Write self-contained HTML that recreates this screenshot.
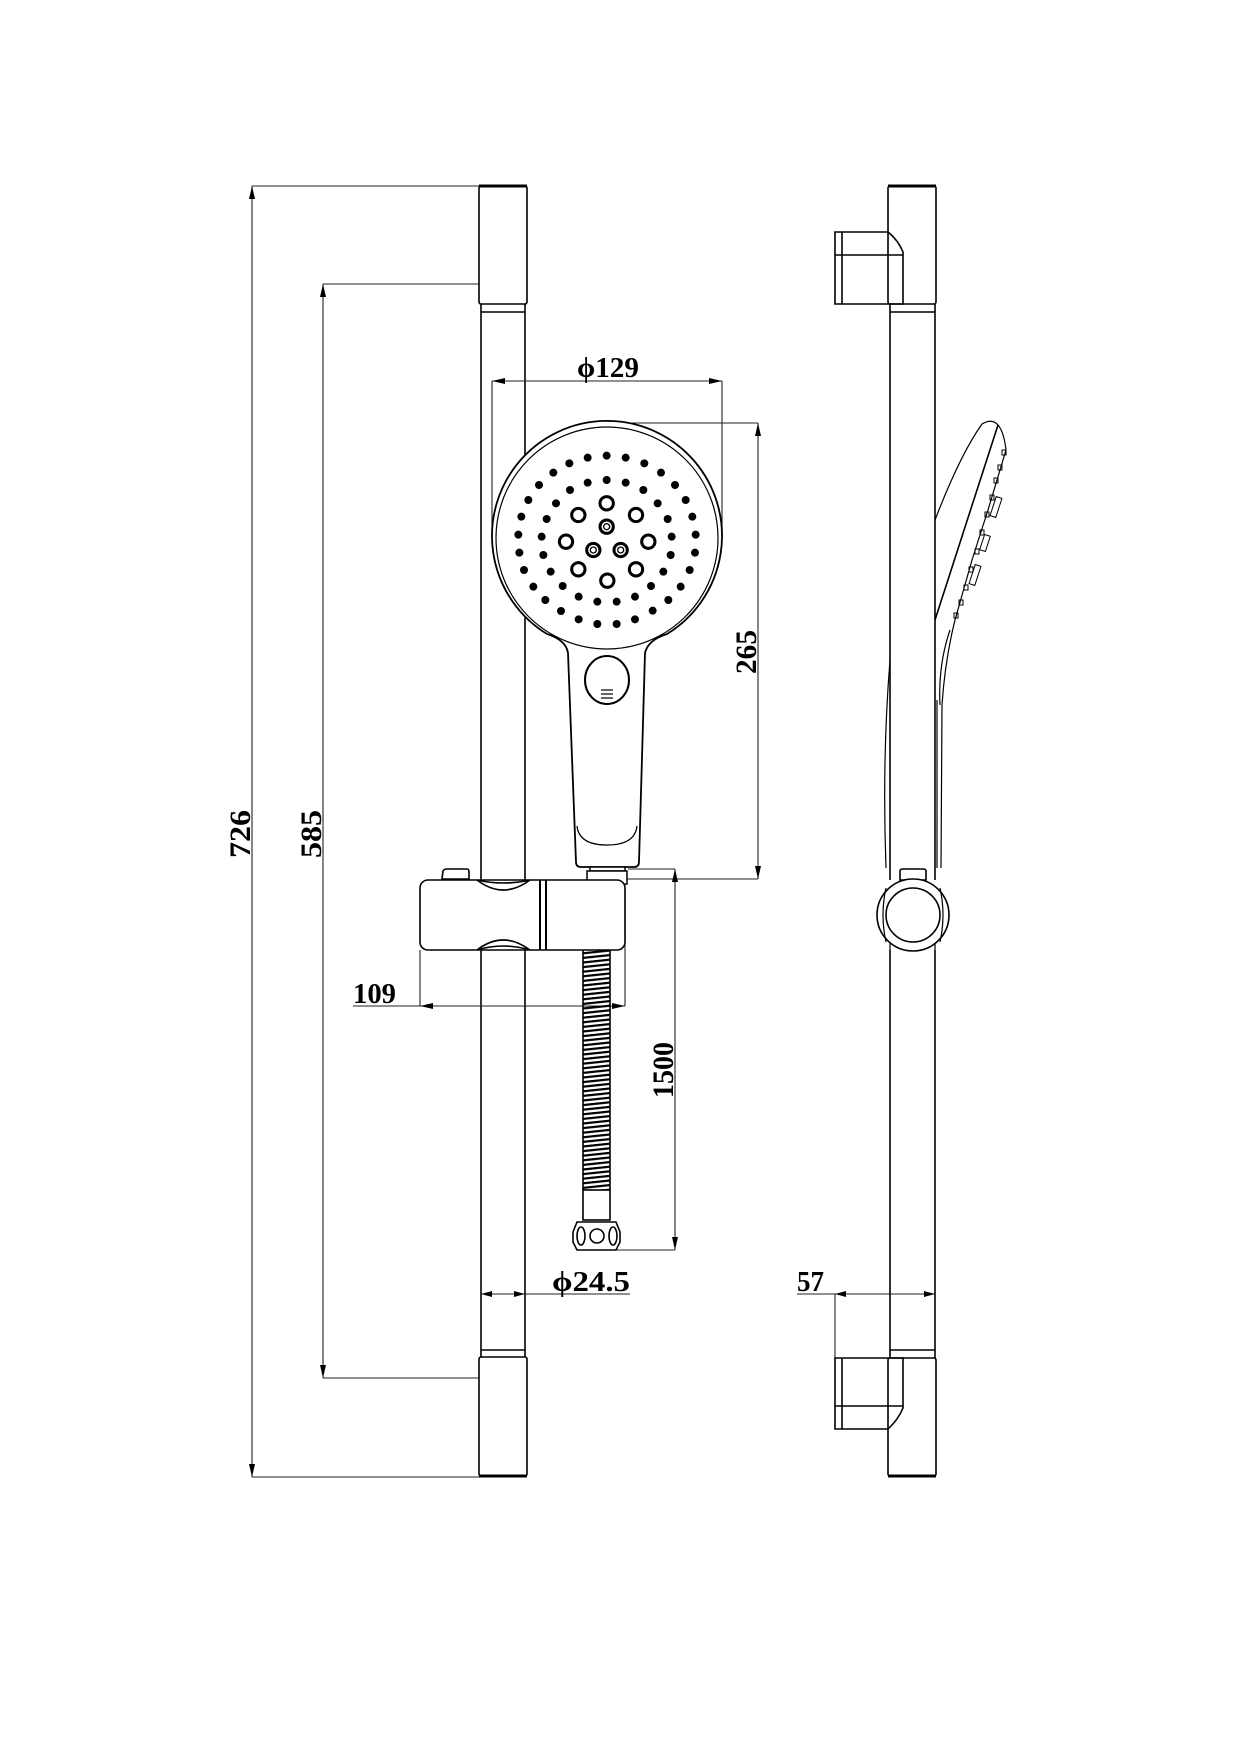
<!DOCTYPE html>
<html><head><meta charset="utf-8"><style>
html,body{margin:0;padding:0;background:#fff;}
svg{display:block;}
text{font-family:"Liberation Serif",serif;font-weight:bold;fill:#000;}
</style></head><body>
<svg width="1240" height="1755" viewBox="0 0 1240 1755" xmlns="http://www.w3.org/2000/svg">
<defs>
<pattern id="coil" width="27" height="4.6" patternUnits="userSpaceOnUse" patternTransform="translate(583,0) skewY(-6)">
<rect x="0" y="0" width="27" height="2.2" fill="#000"/>
</pattern>
</defs>
<g fill="none" stroke="#000" stroke-width="1.6">
<!-- FRONT VIEW rail -->
<rect x="479" y="186" width="48" height="118" rx="2"/>
<line x1="479" y1="186" x2="527" y2="186" stroke-width="3"/>
<line x1="481" y1="304" x2="481" y2="880"/>
<line x1="525" y1="304" x2="525" y2="880"/>
<line x1="481" y1="312" x2="525" y2="312"/>
<line x1="481" y1="950" x2="481" y2="1357"/>
<line x1="525" y1="950" x2="525" y2="1357"/>
<line x1="481" y1="1350" x2="525" y2="1350"/>
<rect x="479" y="1357" width="48" height="119" rx="2"/>
<line x1="479" y1="1476" x2="527" y2="1476" stroke-width="3"/>
</g>

<!-- Dimension lines -->
<g fill="none" stroke="#222" stroke-width="1.1">
<line x1="252" y1="186" x2="479" y2="186"/>
<line x1="252" y1="186" x2="252" y2="1477"/>
<line x1="252" y1="1477" x2="479" y2="1477"/>
<line x1="323" y1="284" x2="479" y2="284"/>
<line x1="323" y1="284" x2="323" y2="1378"/>
<line x1="323" y1="1378" x2="479" y2="1378"/>
<!-- phi129 -->
<line x1="492" y1="381" x2="722" y2="381"/>
<line x1="492" y1="381" x2="492" y2="538"/>
<line x1="722" y1="381" x2="722" y2="538"/>
<!-- 265 -->
<line x1="607" y1="423" x2="758" y2="423"/>
<line x1="758" y1="423" x2="758" y2="879"/>
<line x1="607" y1="879" x2="758" y2="879"/>
<!-- 1500 -->
<line x1="628" y1="869" x2="675" y2="869"/>
<line x1="675" y1="869" x2="675" y2="1250"/>
<line x1="612" y1="1250" x2="675" y2="1250"/>
<!-- 109 -->
<line x1="420" y1="950" x2="420" y2="1006"/>
<line x1="625" y1="890" x2="625" y2="1006"/>
<line x1="353" y1="1006" x2="625" y2="1006"/>
<!-- phi24.5 -->
<line x1="481" y1="1294" x2="630" y2="1294"/>
<!-- 57 -->
<line x1="797" y1="1294" x2="935" y2="1294"/>
<line x1="835" y1="1294" x2="835" y2="1358"/>
</g>
<g fill="#000" stroke="none">
<polygon points="252,186 249,199 255,199"/>
<polygon points="252,1477 249,1464 255,1464"/>
<polygon points="323,284 320,297 326,297"/>
<polygon points="323,1378 320,1365 326,1365"/>
<polygon points="492,381 505,378 505,384"/>
<polygon points="722,381 709,378 709,384"/>
<polygon points="758,423 755,436 761,436"/>
<polygon points="758,879 755,866 761,866"/>
<polygon points="675,869 672,882 678,882"/>
<polygon points="675,1250 672,1237 678,1237"/>
<polygon points="420,1006 433,1003 433,1009"/>
<polygon points="625,1006 612,1003 612,1009"/>
<polygon points="481,1294 492,1291 492,1297"/>
<polygon points="525,1294 514,1291 514,1297"/>
<polygon points="835,1294 846,1291 846,1297"/>
<polygon points="935,1294 924,1291 924,1297"/>
</g>

<!-- Labels -->
<text x="0" y="0" font-size="30" textLength="48" lengthAdjust="spacingAndGlyphs" transform="translate(250,858) rotate(-90)">726</text>
<text x="0" y="0" font-size="30" textLength="48" lengthAdjust="spacingAndGlyphs" transform="translate(321,858) rotate(-90)">585</text>
<text x="0" y="0" font-size="30" textLength="44" lengthAdjust="spacingAndGlyphs" transform="translate(756,674) rotate(-90)">265</text>
<text x="0" y="0" font-size="30" textLength="56" lengthAdjust="spacingAndGlyphs" transform="translate(673,1098) rotate(-90)">1500</text>
<text x="577" y="377" font-size="28" textLength="62" lengthAdjust="spacingAndGlyphs">ϕ129</text>
<text x="353" y="1003" font-size="28" textLength="43" lengthAdjust="spacingAndGlyphs">109</text>
<text x="552" y="1291" font-size="28" textLength="78" lengthAdjust="spacingAndGlyphs">ϕ24.5</text>
<text x="797" y="1291" font-size="28" textLength="27" lengthAdjust="spacingAndGlyphs">57</text>

<!-- HEAD front -->
<g fill="#fff" stroke="#000" stroke-width="1.8">
<path d="M568,653 Q566,640 547,634 A115 115 0 1 1 667,634 Q648,640 645,653 L639,862 Q639,867 634,867 L581,867 Q576,867 576,862 Z"/>
</g>
<g fill="none" stroke="#000" stroke-width="1.2">
<circle cx="607" cy="538" r="111"/>
<path d="M577,826 Q579,845 607,845 Q635,845 637,826"/>
<ellipse cx="607" cy="680" rx="22" ry="24" stroke-width="2"/>
<line x1="601" y1="690" x2="613" y2="690"/><line x1="601" y1="694" x2="613" y2="694"/><line x1="601" y1="698" x2="613" y2="698"/>
</g>
<g transform="translate(480,360) scale(0.33333)">
<g fill="#000">
<circle cx="380" cy="287" r="12"/><circle cx="437" cy="293" r="12"/><circle cx="493" cy="310" r="12"/><circle cx="543" cy="338" r="12"/><circle cx="585" cy="375" r="12"/><circle cx="617" cy="420" r="12"/><circle cx="637" cy="470" r="12"/><circle cx="647" cy="524" r="12"/><circle cx="645" cy="578" r="12"/><circle cx="629" cy="630" r="12"/><circle cx="602" cy="680" r="12"/><circle cx="565" cy="720" r="12"/><circle cx="518" cy="752" r="12"/><circle cx="465" cy="778" r="12"/><circle cx="410" cy="792" r="12"/><circle cx="352" cy="792" r="12"/><circle cx="296" cy="778" r="12"/><circle cx="243" cy="753" r="12"/><circle cx="196" cy="720" r="12"/><circle cx="160" cy="680" r="12"/><circle cx="132" cy="630" r="12"/><circle cx="118" cy="578" r="12"/><circle cx="115" cy="524" r="12"/><circle cx="124" cy="470" r="12"/><circle cx="145" cy="420" r="12"/><circle cx="177" cy="375" r="12"/><circle cx="220" cy="338" r="12"/><circle cx="268" cy="310" r="12"/><circle cx="323" cy="293" r="12"/>
<circle cx="380" cy="360" r="12"/><circle cx="437" cy="368" r="12"/><circle cx="490" cy="390" r="12"/><circle cx="533" cy="430" r="12"/><circle cx="563" cy="477" r="12"/><circle cx="575" cy="530" r="12"/><circle cx="572" cy="585" r="12"/><circle cx="550" cy="635" r="12"/><circle cx="513" cy="678" r="12"/><circle cx="465" cy="710" r="12"/><circle cx="410" cy="725" r="12"/><circle cx="352" cy="725" r="12"/><circle cx="296" cy="710" r="12"/><circle cx="248" cy="678" r="12"/><circle cx="212" cy="635" r="12"/><circle cx="190" cy="585" r="12"/><circle cx="185" cy="530" r="12"/><circle cx="200" cy="477" r="12"/><circle cx="228" cy="430" r="12"/><circle cx="270" cy="390" r="12"/><circle cx="323" cy="368" r="12"/>
</g>
<g fill="none" stroke="#000" stroke-width="9">
<circle cx="380" cy="430" r="20"/><circle cx="295" cy="465" r="20"/><circle cx="468" cy="465" r="20"/><circle cx="258" cy="545" r="20"/><circle cx="505" cy="545" r="20"/>
<circle cx="380" cy="500" r="20"/><circle cx="340" cy="570" r="20"/><circle cx="422" cy="570" r="20"/>
<circle cx="295" cy="628" r="20"/><circle cx="468" cy="628" r="20"/><circle cx="382" cy="662" r="20"/>
</g>
<g fill="none" stroke="#000" stroke-width="4">
<circle cx="380" cy="500" r="9"/><circle cx="340" cy="570" r="9"/><circle cx="422" cy="570" r="9"/>
</g>
</g>

<!-- handle connector -->
<g fill="#fff" stroke="#000" stroke-width="1.5">
<rect x="590" y="867" width="35" height="4"/>
<path d="M587,871 L627,871 L627,884 Q607,887 587,884 Z"/>
</g>

<!-- CLAMP front -->
<g fill="#fff" stroke="#000" stroke-width="1.6">
<path d="M442,879 L443,871 Q444,869 447,869 L467,869 Q469,869 469,872 L469,879 Z"/>
<rect x="420" y="880" width="205" height="70" rx="8"/>
<path d="M477,880 Q503,900 530,880 Q503,886 477,880 Z"/>
<path d="M477,950 Q503,930 530,950 Q503,942 477,950 Z"/>
</g>
<g stroke="#000" stroke-width="2">
<line x1="540" y1="880" x2="540" y2="950"/>
<line x1="546" y1="880" x2="546" y2="950"/>
</g>

<!-- hose -->
<rect x="583" y="950" width="27" height="240" fill="url(#coil)"/>
<g fill="none" stroke="#000" stroke-width="1.6">
<line x1="583" y1="950" x2="583" y2="1190"/>
<line x1="610" y1="950" x2="610" y2="1190"/>
<rect x="583" y="1190" width="27" height="30"/>
<path d="M577,1222 L616,1222 L620,1232 L620,1242 L616,1250 L577,1250 L573,1242 L573,1232 Z"/>
<circle cx="597" cy="1236" r="7"/>
<ellipse cx="581" cy="1236" rx="4" ry="9"/>
<ellipse cx="613" cy="1236" rx="4" ry="9"/>
</g>

<!-- SIDE VIEW -->
<g fill="none" stroke="#000" stroke-width="1.6">
<rect x="888" y="186" width="48" height="118" rx="2"/>
<line x1="888" y1="186" x2="936" y2="186" stroke-width="3"/>
<path d="M888,232 L840,232 L835,232 L835,304 L903,304 L903,252 Q898,240 888,232"/>
<line x1="842" y1="232" x2="842" y2="304"/>
<line x1="835" y1="255" x2="903" y2="255"/>
<line x1="890" y1="304" x2="890" y2="880"/>
<line x1="935" y1="304" x2="935" y2="880"/>
<line x1="890" y1="312" x2="935" y2="312"/>
<line x1="890" y1="950" x2="890" y2="1358"/>
<line x1="935" y1="950" x2="935" y2="1358"/>
<line x1="890" y1="1350" x2="935" y2="1350"/>
<rect x="888" y="1358" width="48" height="118" rx="2"/>
<line x1="888" y1="1476" x2="936" y2="1476" stroke-width="3"/>
<path d="M888,1429 L840,1429 L835,1429 L835,1358 L903,1358 L903,1408 Q898,1420 888,1429"/>
<line x1="842" y1="1358" x2="842" y2="1429"/>
<line x1="835" y1="1406" x2="903" y2="1406"/>
</g>
<!-- side head -->
<g fill="none" stroke="#000" stroke-width="1.2">
<path d="M935,520 Q960,455 982,424 Q992,418 998,425 Q1004,432 1006,450"/>
<path d="M935,620 L998,425" stroke-width="1.6"/>
<path d="M1006,450 L988,510 L972,560 L955,620 Q945,660 942,705"/>
<path d="M950,630 Q938,665 940,705"/>
<path d="M937,700 L937,868"/>
<path d="M942,705 L941,868"/>
<path d="M890,660 Q882,760 886,868"/>
</g>
<g fill="none" stroke="#000" stroke-width="1">
<rect x="1002" y="450" width="4" height="5"/><rect x="998" y="465" width="4" height="5"/><rect x="994" y="478" width="4" height="5"/>
<rect x="990" y="495" width="4" height="5"/><rect x="985" y="512" width="4" height="5"/><rect x="980" y="530" width="4" height="5"/>
<rect x="975" y="549" width="4" height="5"/><rect x="969" y="567" width="4" height="5"/><rect x="964" y="585" width="4" height="5"/>
<rect x="959" y="600" width="4" height="5"/><rect x="954" y="613" width="4" height="5"/>
<rect x="993" y="497" width="6" height="20" transform="rotate(18 996 507)"/>
<rect x="982" y="535" width="6" height="16" transform="rotate(18 985 543)"/>
<rect x="972" y="565" width="6" height="20" transform="rotate(18 975 575)"/>
</g>
<!-- side clamp -->
<g fill="#fff" stroke="#000" stroke-width="1.6">
<path d="M900,880 L900,871 Q900,869 903,869 L923,869 Q926,869 926,871 L926,880 Z"/>
<circle cx="913" cy="915" r="36"/>
<circle cx="913" cy="915" r="27"/>
</g>
<g fill="none" stroke="#000" stroke-width="1.2">
<path d="M886,888 Q880,915 886,942"/>
<path d="M940,888 Q946,915 940,942"/>
<line x1="890" y1="950" x2="890" y2="943"/>
<line x1="935" y1="950" x2="935" y2="943"/>
</g>
</svg>
</body></html>
